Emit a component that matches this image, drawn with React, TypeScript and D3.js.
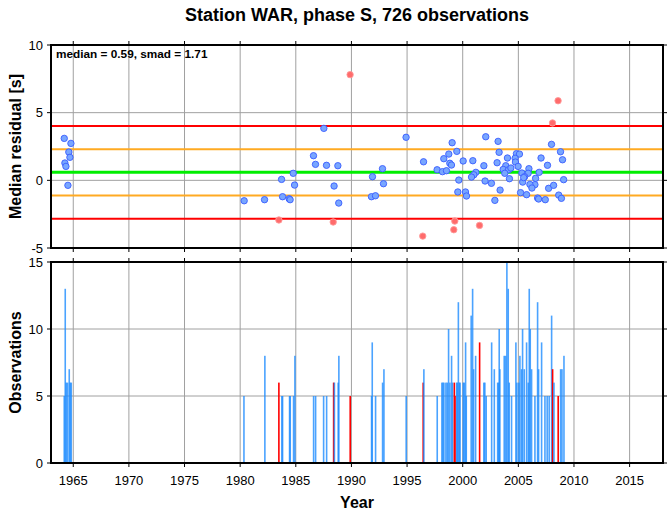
import React from "react";
import * as d3 from "d3";

const title = "Station WAR, phase S, 726 observations";
const median = 0.59;
const smad = 1.71;

const pointYears = [
  1964.19, 1964.79, 1964.6, 1964.7, 1964.25, 1964.34, 1964.52, 1980.36,
  1989.88, 1987.52, 1994.91, 1986.59, 1986.77, 1987.76, 1988.78, 1996.48,
  1997.7, 1992.79, 1984.77, 1991.89, 1983.72, 1984.89, 1988.44, 1992.88,
  1982.19, 1983.81, 1984.4, 1984.49, 1988.86, 1991.8, 1992.16, 1983.48,
  1988.36, 1996.41,
  2008.57, 2008.07, 2002.07, 1999.05, 2003.18, 2007.98, 1999.47, 1998.75,
  2003.27, 1998.3, 2008.79, 2008.97, 2004.83, 2005.1, 2004.02, 2004.71,
  2007.04, 2000.04, 2000.91, 2003.09, 2004.74, 1998.84, 1998.99, 2001.9,
  2003.87, 2004.98, 2007.62, 1998.18, 1998.54, 2003.64, 2004.12, 2004.33,
  2005.95, 2003.78, 2001.18, 2006.87, 2005.32, 2005.88, 2001.0, 2000.79,
  2005.56, 1999.65, 2004.2, 2006.55, 2009.07, 2002.01, 2002.58, 2005.39,
  2006.49, 2006.04, 2006.22, 2007.72, 2008.17, 2003.36, 1999.56, 2000.25,
  2000.34, 2005.2, 2005.74, 2008.63, 2008.87, 2006.73, 2006.82, 2007.42,
  2002.89, 1999.29, 1999.2, 2001.51, 2005.48,
];
const pointResiduals = [
  3.1, 2.73, 2.09, 1.7, 1.28, 1.03, -0.37, -1.51,
  7.81, 3.84, 3.18, 1.82, 1.18, 1.11, 1.08, 1.37,
  0.78, 0.86, 0.52, 0.27, 0.07, -0.35, -0.42, -0.25,
  -1.43, -1.21, -1.36, -1.43, -1.68, -1.21, -1.14, -2.93,
  -3.08, -4.12,
  5.88, 4.24, 3.22, 2.78, 2.88, 2.66, 2.14, 1.94,
  2.07, 1.6, 2.11, 1.52, 1.97, 1.94, 1.65, 1.63,
  1.65, 1.43, 1.45, 1.3, 1.35, 1.26, 1.13, 1.08,
  1.08, 1.03, 1.11, 0.64, 0.71, 0.81, 0.78, 0.91,
  0.86, 0.52, 0.59, 0.59, 0.54, 0.52, 0.41, 0.24,
  0.27, 0.02, 0.12, 0.15, 0.05, -0.05, -0.22, -0.13,
  -0.32, -0.3, -0.57, -0.59, -0.37, -0.72, -0.86, -0.86,
  -1.16, -0.91, -1.06, -1.09, -1.33, -1.31, -1.38, -1.43,
  -1.48, -3.01, -3.65, -3.33, 0.2,
];

const barYears = [
  1964.19, 1964.28, 1964.37, 1964.49, 1964.64, 1964.73, 1964.82,
  1980.34, 1982.22, 1983.48, 1983.75, 1983.81, 1984.44, 1984.5, 1984.8,
  1984.92, 1986.6, 1986.78, 1987.5, 1987.77, 1988.4, 1988.47, 1988.81,
  1988.87, 1989.89, 1991.81, 1991.87, 1992.17, 1992.8, 1992.92, 1994.92,
  1996.45, 1996.51, 1997.71, 1998.13, 1998.22, 1998.31, 1998.49, 1998.61,
  1998.73, 1998.85, 1999.0, 1999.09, 1999.25, 1999.31, 1999.46, 1999.52,
  1999.61, 1999.7, 1999.76, 2000.05, 2000.14, 2000.26, 2000.32, 2000.76,
  2000.89, 2000.98, 2001.16, 2001.52, 2001.9, 2001.99, 2002.11, 2002.6,
  2002.84, 2003.14, 2003.23, 2003.28, 2003.34, 2003.73, 2003.86, 2003.97,
  2004.09, 2004.18, 2004.39, 2004.78, 2004.87, 2005.05, 2005.14, 2005.29,
  2005.38, 2005.53, 2005.74, 2005.89, 2005.98, 2006.07, 2006.19, 2006.49,
  2006.73, 2006.82, 2007.09, 2007.39, 2007.59, 2007.77, 2007.99, 2008.08,
  2008.2, 2008.58, 2008.8, 2008.92, 2009.1,
];
const barCounts = [
  5, 13, 6, 6, 7, 6, 6,
  5, 8, 6, 5, 5, 5, 5, 5,
  8, 5, 5, 5, 5, 6, 6, 6,
  8, 5, 5, 9, 5, 6, 7, 5,
  6, 7, 5, 6, 6, 6, 6, 6,
  10, 6, 8, 6, 6, 5, 6, 6,
  12, 6, 6, 6, 6, 9, 5, 11,
  13, 7, 8, 9, 6, 6, 5, 9,
  7, 6, 6, 10, 7, 8, 8, 15,
  13, 6, 5, 9, 6, 6, 8, 7,
  10, 7, 9, 6, 13, 10, 7, 5,
  12, 7, 9, 5, 5, 5, 11, 7,
  6, 5, 7, 7, 8,
];
const barOutlier = [
  0, 0, 0, 0, 0, 0, 0,
  0, 0, 1, 0, 0, 0, 0, 0,
  0, 0, 0, 0, 0, 1, 0, 0,
  0, 1, 0, 0, 0, 0, 0, 0,
  1, 0, 0, 0, 0, 0, 0, 0,
  0, 0, 0, 0, 1, 1, 0, 0,
  0, 0, 0, 0, 0, 0, 0, 0,
  0, 0, 0, 1, 0, 0, 0, 0,
  0, 0, 0, 0, 0, 0, 0, 0,
  0, 0, 0, 0, 0, 0, 0, 0,
  0, 0, 0, 0, 0, 0, 0, 0,
  0, 0, 0, 0, 0, 0, 0, 1,
  0, 1, 0, 0, 0,
];

const yearTicks = [1965, 1970, 1975, 1980, 1985, 1990, 1995, 2000, 2005, 2010, 2015];
const residualTicks = [-5, 0, 5, 10];
const countTicks = [0, 5, 10, 15];

const FONT = "'Liberation Sans', Arial, Helvetica, sans-serif";

export default function App() {
  const W = 669;
  const H = 511;
  const left = 51;
  const right = 663;
  const x = d3.scaleLinear().domain([1963, 2018]).range([left, right]);
  const yTop = d3.scaleLinear().domain([-5, 10]).range([248, 45]);
  const yBot = d3.scaleLinear().domain([0, 15]).range([463, 262]);

  const lines = [
    { v: median + 2 * smad, c: "#ff0000", w: 2 },
    { v: median - 2 * smad, c: "#ff0000", w: 2 },
    { v: median + smad, c: "#ffaa22", w: 2 },
    { v: median - smad, c: "#ffaa22", w: 2 },
    { v: median, c: "#00ee00", w: 3 },
  ];

  const tickLen = 4;
  const frame = (y0: number, y1: number, yTicks: number[], ys: (v: number) => number, key: string) => (
    <g key={key}>
      {yearTicks.map((t) => (
        <g key={"t" + t}>
          <line x1={x(t)} x2={x(t)} y1={y1} y2={y1 + tickLen} stroke="#000" strokeWidth={1} />
          <line x1={x(t)} x2={x(t)} y1={y0} y2={y0 - tickLen} stroke="#000" strokeWidth={1} />
        </g>
      ))}
      {yTicks.map((t) => (
        <g key={"y" + t}>
          <line x1={left - tickLen} x2={left} y1={ys(t)} y2={ys(t)} stroke="#000" strokeWidth={1} />
          <line x1={right} x2={right + tickLen} y1={ys(t)} y2={ys(t)} stroke="#000" strokeWidth={1} />
        </g>
      ))}
      <rect x={left} y={y0} width={right - left} height={y1 - y0} fill="none" stroke="#000" strokeWidth={2} />
    </g>
  );

  const grid = (y0: number, y1: number, yTicks: number[], ys: (v: number) => number) => (
    <g>
      {yearTicks.map((t) => (
        <line key={"gx" + t} x1={x(t)} x2={x(t)} y1={y0} y2={y1} stroke="#a0a0a0" strokeWidth={1} />
      ))}
      {yTicks.map((t) => (
        <line key={"gy" + t} x1={left} x2={right} y1={ys(t)} y2={ys(t)} stroke="#a0a0a0" strokeWidth={1} />
      ))}
    </g>
  );

  const barW = 1.6;

  return (
    <svg width={W} height={H} style={{ position: "absolute", left: 0, top: 0, background: "#fff" }} fontFamily={FONT}>
      <rect width={W} height={H} fill="#fff" />
      <text x={(left + right) / 2} y={21} textAnchor="middle" fontSize={18} fontWeight="bold">{title}</text>

      {/* top panel */}
      {grid(45, 248, [0, 5], yTop)}
      {lines.map((l, i) => (
        <line key={"l" + i} x1={left} x2={right} y1={yTop(l.v)} y2={yTop(l.v)} stroke={l.c} strokeWidth={l.w} />
      ))}
      {pointYears.map((yr, i) => {
        const r = pointResiduals[i];
        const out = Math.abs(r - median) > 2 * smad;
        return (
          <circle key={"p" + i} cx={x(yr)} cy={yTop(r)} r={3.2}
            fill={out ? "#ff6b6b" : "#78a6ff"} stroke={out ? "#ff9a9a" : "#3a5cff"} strokeWidth={0.9} />
        );
      })}
      {frame(45, 248, residualTicks, yTop, "f1")}
      {residualTicks.map((t) => (
        <text key={"rt" + t} x={left - 8} y={yTop(t) + 4.5} textAnchor="end" fontSize={13}>{t}</text>
      ))}
      <text x={56} y={58} fontSize={11.8} fontWeight="bold">{`median = ${median.toFixed(2)}, smad = ${smad.toFixed(2)}`}</text>
      <text transform={`translate(21, ${(45 + 248) / 2}) rotate(-90)`} textAnchor="middle" fontSize={16} fontWeight="bold">Median residual [s]</text>

      {/* bottom panel */}
      {grid(262, 463, [5, 10], yBot)}
      {barYears.map((yr, i) => (
        <rect key={"b" + i} x={x(yr) - barW / 2} y={yBot(barCounts[i])} width={barW}
          height={yBot(0) - yBot(barCounts[i])}
          fill={barOutlier[i] ? "#ff0000" : "#1e8cff"} fillOpacity={barOutlier[i] ? 1 : 0.8} />
      ))}
      {frame(262, 463, countTicks, yBot, "f2")}
      {countTicks.map((t) => (
        <text key={"ct" + t} x={left - 8} y={yBot(t) + 4.5} textAnchor="end" fontSize={13}>{t}</text>
      ))}
      {yearTicks.map((t) => (
        <text key={"xt" + t} x={x(t)} y={485} textAnchor="middle" fontSize={13}>{t}</text>
      ))}
      <text transform={`translate(21, ${(262 + 463) / 2}) rotate(-90)`} textAnchor="middle" fontSize={16} fontWeight="bold">Observations</text>
      <text x={(left + right) / 2} y={508} textAnchor="middle" fontSize={16} fontWeight="bold">Year</text>
    </svg>
  );
}
